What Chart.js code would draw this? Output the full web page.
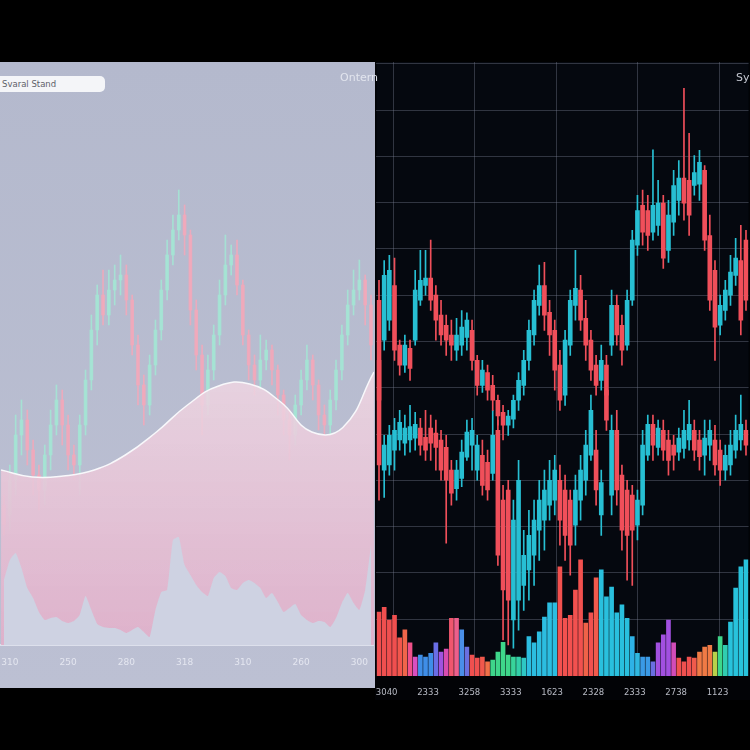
<!DOCTYPE html>
<html>
<head>
<meta charset="utf-8">
<script src="https://cdn.jsdelivr.net/npm/chart.js@4.4.1/dist/chart.umd.min.js"></script>
<style>
  html, body { margin: 0; padding: 0; background: #000; }
  #stage { position: relative; width: 750px; height: 750px; overflow: hidden; background: #000; font-family: "DejaVu Sans", sans-serif; }
  #leftPanel { position: absolute; left: 0; top: 62px; width: 375px; height: 626px; background: linear-gradient(#b4b9cd, #bcc0d3); }
  #rightPanel { position: absolute; left: 375px; top: 62px; width: 375px; height: 638px; background: #020306; }
  canvas { display: block; }
  .tag { position: absolute; left: 0; top: 76px; width: 103px; height: 16px; line-height: 16px; padding-left: 2px; background: #f4f5f8; border-radius: 0 5px 5px 0; color: #5d6068; font-size: 8.5px; }
  .corner { position: absolute; top: 71px; font-size: 11px; }
</style>
</head>
<body>
<div id="stage">
  <div id="leftPanel"><canvas id="leftChart" width="375" height="626"></canvas></div>
  <div id="rightPanel"><canvas id="rightChart" width="375" height="638"></canvas></div>
  <div class="tag">Svaral Stand</div>
  <div class="corner" style="left:340px; color:#e2e5ee;">Ontern</div>
  <div class="corner" style="left:736px; color:#c6c9d2;">Sy</div>
</div>
<script>
// Left panel: tick labels shown every 10th candle
const leftTicks = ['310', '250', '280', '318', '310', '260', '300'];

// Left candles [open, high, low, close]
const leftCandles = [
    [28, 30, 22, 24], [26, 36, 23, 33], [33, 46, 30, 42], [42, 49, 38, 45], [45, 47, 36, 39],
    [39, 41, 30, 34], [34, 36, 27, 31], [31, 40, 28, 38], [38, 47, 35, 44], [44, 52, 42, 49],
    [49, 51, 40, 44], [44, 46, 35, 38], [38, 40, 33, 36], [36, 46, 30, 44], [44, 55, 42, 53],
    [53, 66, 51, 63], [63, 72, 60, 70], [70, 75, 64, 66], [66, 75, 64, 71], [71, 76, 68, 73],
    [73, 78, 70, 74], [74, 76, 66, 69], [69, 70, 58, 60], [60, 62, 48, 52], [52, 54, 44, 48],
    [48, 58, 46, 56], [56, 65, 54, 63], [63, 73, 61, 71], [71, 81, 69, 78], [78, 86, 76, 83],
    [83, 91, 81, 86], [86, 88, 78, 82], [82, 83, 64, 67], [67, 69, 55, 58], [58, 60, 42, 48],
    [48, 58, 46, 55], [55, 64, 53, 62], [62, 73, 60, 70], [70, 82, 68, 76], [76, 80, 74, 78],
    [78, 81, 70, 72], [72, 73, 60, 62], [62, 63, 53, 56], [56, 58, 50, 53], [53, 62, 51, 57],
    [57, 61, 55, 59], [59, 60, 52, 55], [55, 56, 46, 50], [50, 51, 42, 45], [45, 47, 37, 42],
    [42, 50, 40, 48], [48, 55, 46, 53], [53, 60, 51, 57], [57, 58, 49, 52], [52, 53, 43, 46],
    [46, 48, 41, 44], [44, 51, 42, 49], [49, 57, 47, 55], [55, 64, 53, 62], [62, 71, 60, 68],
    [68, 75, 66, 71], [71, 77, 69, 73], [73, 74, 64, 68], [68, 70, 57, 60]
];

// Smooth white curve (13 evenly spaced points)
const leftCurve = [35, 33.6, 33.8, 35, 38, 42.6, 48, 51.8, 52.2, 48.6, 42.6, 43.5, 54.6];

// Light silhouette area at the bottom, one value per candle
const leftShadow = [
    13, 17, 18.4, 15.4, 11.4, 9.4, 6.6, 5, 5.4, 5.6,
    4.8, 4.4, 4.8, 6, 9.8, 7, 4.2, 3.6, 3.4, 3.4,
    3, 2.4, 3, 3.6, 2.6, 1.6, 7, 10.6, 11, 21,
    21.6, 16, 14, 12, 10.6, 9.8, 13.4, 14.6, 13.8, 11.4,
    11, 12.4, 13, 12.4, 11.4, 9.4, 10.4, 8.6, 6.6, 7.4,
    8.2, 6, 5, 4.4, 4.8, 4.6, 3.6, 5.4, 8.4, 10.4,
    8.4, 7, 11, 20
];

// Right panel: tick labels shown every 8th candle
const rightTicks = ['3040', '2333', '3258', '3333', '1623', '2328', '2333', '2738', '1123'];

// Upper candle series [open, high, low, close]
const upperCandles = [
    [78.9, 83.2, 53.0, 57.3], [70.3, 87.5, 68.1, 84.3], [74.6, 88.6, 72.4, 85.4], [82.1, 88.0, 65.9, 68.1],
    [69.2, 70.3, 62.7, 64.9], [64.9, 71.4, 63.3, 69.2], [68.5, 70.3, 61.6, 64.2], [70.3, 85.4, 69.2, 81.1],
    [78.9, 89.7, 77.8, 83.2], [82.1, 89.7, 80.0, 83.7], [83.7, 91.9, 76.7, 78.9], [80.0, 82.1, 70.3, 74.6],
    [75.7, 78.9, 69.2, 71.4], [73.5, 75.7, 67.0, 70.3], [71.4, 74.6, 65.9, 69.2], [68.1, 75.0, 65.9, 71.4],
    [69.2, 76.7, 67.0, 73.1], [70.9, 76.2, 68.1, 74.6], [72.4, 74.6, 63.8, 65.9], [65.9, 67.0, 58.4, 60.5],
    [60.5, 65.9, 59.0, 63.8], [63.3, 64.9, 57.3, 59.5], [60.5, 62.7, 55.1, 57.3], [57.3, 58.4, 51.9, 53.9],
    [54.7, 56.2, 48.7, 51.9], [51.9, 55.1, 49.7, 53.9], [53.2, 58.4, 51.3, 57.3], [57.3, 63.3, 55.1, 61.6],
    [60.5, 68.1, 58.4, 65.9], [65.9, 74.6, 63.8, 72.4], [71.4, 81.1, 69.2, 78.9], [77.8, 86.5, 75.7, 82.1],
    [82.1, 87.1, 72.4, 75.7], [76.3, 78.9, 67.0, 71.4], [72.4, 74.6, 59.5, 63.8], [64.9, 68.1, 55.1, 57.3],
    [58.4, 72.4, 56.2, 70.3], [69.2, 81.1, 67.0, 78.9], [77.8, 89.7, 74.6, 81.5], [81.1, 84.3, 72.4, 74.6],
    [75.0, 78.9, 65.9, 69.2], [70.3, 72.4, 61.6, 63.8], [64.9, 67.0, 58.4, 60.5], [61.6, 69.2, 59.5, 65.9],
    [64.9, 67.0, 55.1, 58.4], [69.2, 81.1, 67.0, 77.8], [77.8, 80.0, 69.2, 71.4], [73.5, 75.7, 64.9, 68.1],
    [69.2, 81.1, 68.1, 78.9], [78.9, 94.0, 77.8, 91.9], [90.8, 101.6, 88.6, 98.3], [99.4, 102.7, 90.8, 93.6],
    [98.3, 101.6, 89.7, 92.9], [93.6, 111.4, 91.9, 99.4], [95.1, 104.8, 92.9, 99.9], [99.9, 101.6, 85.8, 88.0],
    [89.7, 100.5, 87.1, 97.3], [95.8, 107.0, 92.9, 103.7], [100.5, 109.1, 97.3, 105.3], [105.3, 124.7, 96.2, 99.9],
    [104.8, 115.0, 92.9, 97.3], [103.7, 110.2, 101.6, 106.5], [104.0, 111.3, 100.5, 108.7], [107.0, 108.0, 89.7, 91.9],
    [92.9, 97.3, 76.7, 78.9], [85.4, 87.5, 65.9, 73.1], [73.5, 80.0, 71.4, 77.8], [76.7, 83.2, 74.6, 81.1],
    [80.0, 88.6, 77.8, 85.0], [84.3, 92.3, 82.1, 88.0], [87.5, 95.1, 71.4, 74.6], [91.9, 94.0, 76.7, 78.9]
];

// Lower candle series [open, high, low, close]
const lowerCandles = [
    [65.9, 68.1, 35.7, 43.3], [42.2, 49.7, 36.3, 47.6], [43.3, 51.9, 41.1, 49.7], [46.5, 53.4, 42.2, 50.8],
    [48.7, 55.1, 46.5, 52.5], [48.0, 54.1, 45.4, 51.3], [48.7, 56.2, 46.1, 51.6], [49.1, 54.7, 46.5, 52.1],
    [51.3, 53.4, 45.4, 47.6], [49.3, 55.1, 44.3, 46.5], [51.3, 54.1, 44.3, 48.0], [50.2, 53.0, 42.2, 47.1],
    [48.7, 50.8, 40.0, 42.2], [47.1, 49.7, 26.4, 40.0], [42.2, 44.3, 34.6, 37.2], [38.2, 44.3, 35.7, 42.2],
    [40.4, 48.7, 38.6, 46.1], [45.0, 53.0, 44.3, 50.4], [47.6, 53.4, 42.2, 50.8], [42.2, 49.7, 40.0, 47.6],
    [45.4, 48.7, 36.8, 38.9], [43.9, 46.5, 35.7, 37.9], [41.5, 55.1, 40.0, 49.7], [50.8, 53.0, 21.6, 23.8],
    [35.7, 38.9, 5.5, 16.3], [37.9, 40.0, 4.4, 14.1], [9.8, 35.7, 3.7, 31.4], [14.1, 44.3, 7.6, 40.0],
    [17.3, 29.2, 11.9, 23.8], [20.6, 33.5, 14.1, 28.1], [23.8, 35.7, 17.3, 31.4], [29.2, 40.0, 22.7, 35.7],
    [31.4, 42.2, 24.9, 37.9], [34.6, 44.3, 31.4, 40.0], [35.7, 45.4, 32.5, 42.2], [40.0, 43.3, 26.0, 31.4],
    [37.9, 41.1, 22.7, 28.1], [35.7, 37.9, 19.5, 26.0], [30.3, 41.1, 26.0, 37.9], [35.7, 45.4, 31.4, 42.2],
    [40.0, 50.8, 36.8, 47.6], [45.4, 58.4, 44.3, 55.1], [46.5, 50.8, 34.6, 37.9], [32.5, 42.2, 28.1, 39.5],
    [59.5, 61.6, 50.8, 53.0], [36.8, 54.1, 32.5, 50.8], [50.8, 55.1, 34.6, 37.9], [41.1, 43.3, 24.9, 29.2],
    [37.9, 40.0, 18.4, 28.1], [36.8, 38.9, 17.3, 29.2], [30.3, 37.9, 27.1, 35.7], [34.6, 50.8, 32.5, 47.6],
    [45.4, 54.1, 44.3, 52.1], [52.1, 54.1, 44.3, 47.6], [47.1, 53.0, 45.4, 51.3], [50.8, 53.0, 44.3, 46.5],
    [48.7, 50.8, 41.1, 44.3], [47.6, 49.7, 42.2, 45.4], [46.1, 51.3, 44.3, 49.1], [46.9, 55.1, 44.8, 50.8],
    [48.7, 57.3, 46.5, 52.1], [50.8, 53.0, 44.3, 46.5], [48.7, 50.8, 42.2, 45.1], [45.4, 53.0, 41.1, 49.1],
    [47.6, 53.0, 44.3, 50.8], [48.7, 51.9, 41.1, 43.3], [46.5, 48.7, 38.9, 42.2], [42.2, 47.6, 40.0, 45.4],
    [43.3, 50.8, 41.1, 47.6], [46.5, 54.1, 44.8, 50.8], [48.7, 58.4, 46.5, 52.1], [50.8, 53.0, 45.4, 47.6]
];

// Volume bars
const volumes = [
    10.4, 11.2, 9.1, 9.9, 6.2, 7.5, 5.4, 3.1, 3.4, 3.1, 3.7, 5.4, 3.9, 4.4, 9.4, 9.4, 7.5, 4.7,
    3.4, 2.9, 3.1, 2.3, 2.6, 3.9, 5.5, 3.4, 3.1, 3.1, 2.9, 6.4, 5.4, 7.2, 9.6, 11.9, 11.9, 17.8,
    9.4, 9.9, 14, 18.9, 8.6, 10.3, 16, 17.3, 12.9, 14.5, 10.3, 11.6, 9.4, 6.4, 3.7, 3.1, 3.1, 2.3,
    5.4, 6.7, 9.1, 5.4, 2.9, 2.3, 3.1, 2.9, 3.9, 4.7, 5, 3.9, 6.4, 5, 8.8, 14.3, 17.8, 18.9
];

const volumeColors = [
    '#f04f4f', '#f04f4f', '#f04f4f', '#f04f4f', '#f2564c', '#f0654a', '#f0508a', '#d94fc0', '#3f8ee8', '#3f8ee8',
    '#3f8ee8', '#6a6ee6', '#a053e0', '#d84cb0', '#f0566e', '#ec5f8c', '#4a8fe8', '#6a70e0', '#f0504f', '#f0504f',
    '#f0584c', '#f07048', '#3ed68a', '#3ed68a', '#3ed68a', '#3ed68a', '#38d49a', '#32d0a8', '#2ec8c4', '#2cbde0',
    '#2cbde0', '#2cbde0', '#2cbde0', '#2cbde0', '#2cbde0', '#f2514f', '#f2514f', '#f2514f', '#f2514f', '#f2514f',
    '#f06248', '#f2514f', '#f25a4c', '#29c0de', '#29c0de', '#29c0de', '#29c0de', '#29c0de', '#29c0de', '#2eb2e6',
    '#2fb8e0', '#3a9ae6', '#3a9ae6', '#6a6fe2', '#a250e0', '#a250e0', '#a250e0', '#d24cb8', '#f0504f', '#f0504f',
    '#f0504f', '#f05a4c', '#f07a45', '#f07a45', '#f07a45', '#b8d24a', '#3ed68a', '#30cdb0', '#28c3dc', '#28c3dc',
    '#28c3dc', '#28c3dc'
];

// Candle helpers
function candleBodies(candles) {
    return candles.map(c => [c[0], c[3]]);
}

function candleWicks(candles) {
    return candles.map(c => [c[2], c[1]]);
}

function candleColors(candles, up, down) {
    return candles.map(c => (c[3] >= c[0] ? up : down));
}

// Fill the plot area of the dark chart
const plotBackground = {
    id: 'plotBackground',
    beforeDraw(chart, args, opts) {
        if (!opts.color) return;
        const { ctx, chartArea } = chart;
        ctx.save();
        ctx.fillStyle = opts.color;
        ctx.fillRect(chartArea.left, chartArea.top, chartArea.right - chartArea.left, chartArea.bottom - chartArea.top);
        ctx.restore();
    }
};

// Left (light) chart
function buildLeftChart() {
    const teal = 'rgba(164, 228, 212, 0.9)';
    const pink = 'rgba(241, 168, 186, 0.9)';
    const colors = candleColors(leftCandles, teal, pink);

    new Chart(document.getElementById('leftChart'), {
        type: 'bar',
        data: {
            labels: leftCandles.map((c, i) => i),
            datasets: [
                {
                    type: 'line',
                    data: leftShadow,
                    order: 0,
                    fill: 'origin',
                    backgroundColor: '#ced2e2',
                    borderWidth: 0,
                    pointRadius: 0,
                    tension: 0.15
                },
                {
                    type: 'line',
                    xAxisID: 'xc',
                    data: leftCurve.map((v, i) => ({ x: i, y: v })),
                    order: 1,
                    fill: 'origin',
                    backgroundColor: function (context) {
                        const area = context.chart.chartArea;
                        if (!area) return 'rgba(230, 192, 210, 0.85)';
                        const g = context.chart.ctx.createLinearGradient(0, area.top + 310, 0, area.bottom);
                        g.addColorStop(0, 'rgba(238, 214, 226, 0.86)');
                        g.addColorStop(1, 'rgba(224, 176, 202, 0.94)');
                        return g;
                    },
                    borderColor: '#f8f8fb',
                    borderWidth: 1.5,
                    pointRadius: 0,
                    tension: 0.45
                },
                {
                    data: candleBodies(leftCandles),
                    order: 2,
                    backgroundColor: colors,
                    barThickness: 3,
                    grouped: false
                },
                {
                    data: candleWicks(leftCandles),
                    order: 3,
                    backgroundColor: colors,
                    barThickness: 1,
                    grouped: false
                }
            ]
        },
        options: {
            responsive: false,
            animation: false,
            layout: { padding: 0 },
            plugins: { legend: { display: false }, tooltip: { enabled: false } },
            scales: {
                x: {
                    type: 'category',
                    offset: true,
                    grid: { display: false },
                    border: { color: '#dde0ec', width: 2 },
                    ticks: {
                        color: '#e4e6f0',
                        font: { size: 9, family: 'DejaVu Sans' },
                        padding: 4,
                        autoSkip: false,
                        maxRotation: 0,
                        callback: (val, i) => (i % 10 === 1 ? leftTicks[(i - 1) / 10] : '')
                    },
                    afterFit: scale => { scale.height = 43; }
                },
                xc: { type: 'linear', min: 0, max: 12, offset: false, grid: { offset: false }, display: false },
                y: { min: 0, max: 116.6, display: false }
            }
        }
    });
}

// Right (dark) chart
function buildRightChart() {
    const up = '#27bfd3';
    const down = '#f04f5a';
    const gridColor = 'rgba(120, 128, 146, 0.38)';

    new Chart(document.getElementById('rightChart'), {
        type: 'bar',
        data: {
            labels: upperCandles.map((c, i) => i),
            datasets: [
                { data: candleBodies(upperCandles), order: 0, backgroundColor: candleColors(upperCandles, up, down), barThickness: 4, grouped: false },
                { data: candleWicks(upperCandles), order: 1, backgroundColor: candleColors(upperCandles, up, down), barThickness: 1, grouped: false },
                { data: candleBodies(lowerCandles), order: 2, backgroundColor: candleColors(lowerCandles, up, down), barThickness: 4, grouped: false },
                { data: candleWicks(lowerCandles), order: 3, backgroundColor: candleColors(lowerCandles, up, down), barThickness: 1, grouped: false },
                { data: volumes, yAxisID: 'yv', order: 4, backgroundColor: volumeColors, barThickness: 4, grouped: false }
            ]
        },
        options: {
            responsive: false,
            animation: false,
            layout: { padding: 0 },
            plugins: {
                legend: { display: false },
                tooltip: { enabled: false },
                plotBackground: { color: '#05080f' }
            },
            scales: {
                x: {
                    type: 'category',
                    offset: true,
                    grid: { display: false },
                    border: { display: false },
                    ticks: {
                        color: '#b8bbc5',
                        font: { size: 8.5, family: 'DejaVu Sans' },
                        padding: 4,
                        labelOffset: 2.5,
                        autoSkip: false,
                        maxRotation: 0,
                        callback: (val, i) => (i % 8 === 1 ? rightTicks[(i - 1) / 8] : '')
                    },
                    afterFit: scale => { scale.height = 24; }
                },
                xg: {
                    type: 'linear',
                    position: 'top',
                    min: -0.21,
                    max: 4.36,
                    offset: false,
                    ticks: { display: false, stepSize: 1, includeBounds: false },
                    grid: { color: gridColor, drawTicks: false, offset: false },
                    border: { display: false },
                    afterFit: scale => { scale.height = 0; }
                },
                y: {
                    min: -2.3,
                    max: 130.4,
                    ticks: { display: false, stepSize: 10, includeBounds: false },
                    grid: { color: ctx => (ctx.tick && ctx.tick.value === 0 ? 'rgba(0,0,0,0)' : gridColor), drawTicks: false },
                    border: { display: false },
                    afterFit: scale => { scale.width = 0; }
                },
                yv: { min: 0, max: 100, display: false }
            }
        },
        plugins: [plotBackground]
    });
}

buildLeftChart();
buildRightChart();
</script>
</body>
</html>
